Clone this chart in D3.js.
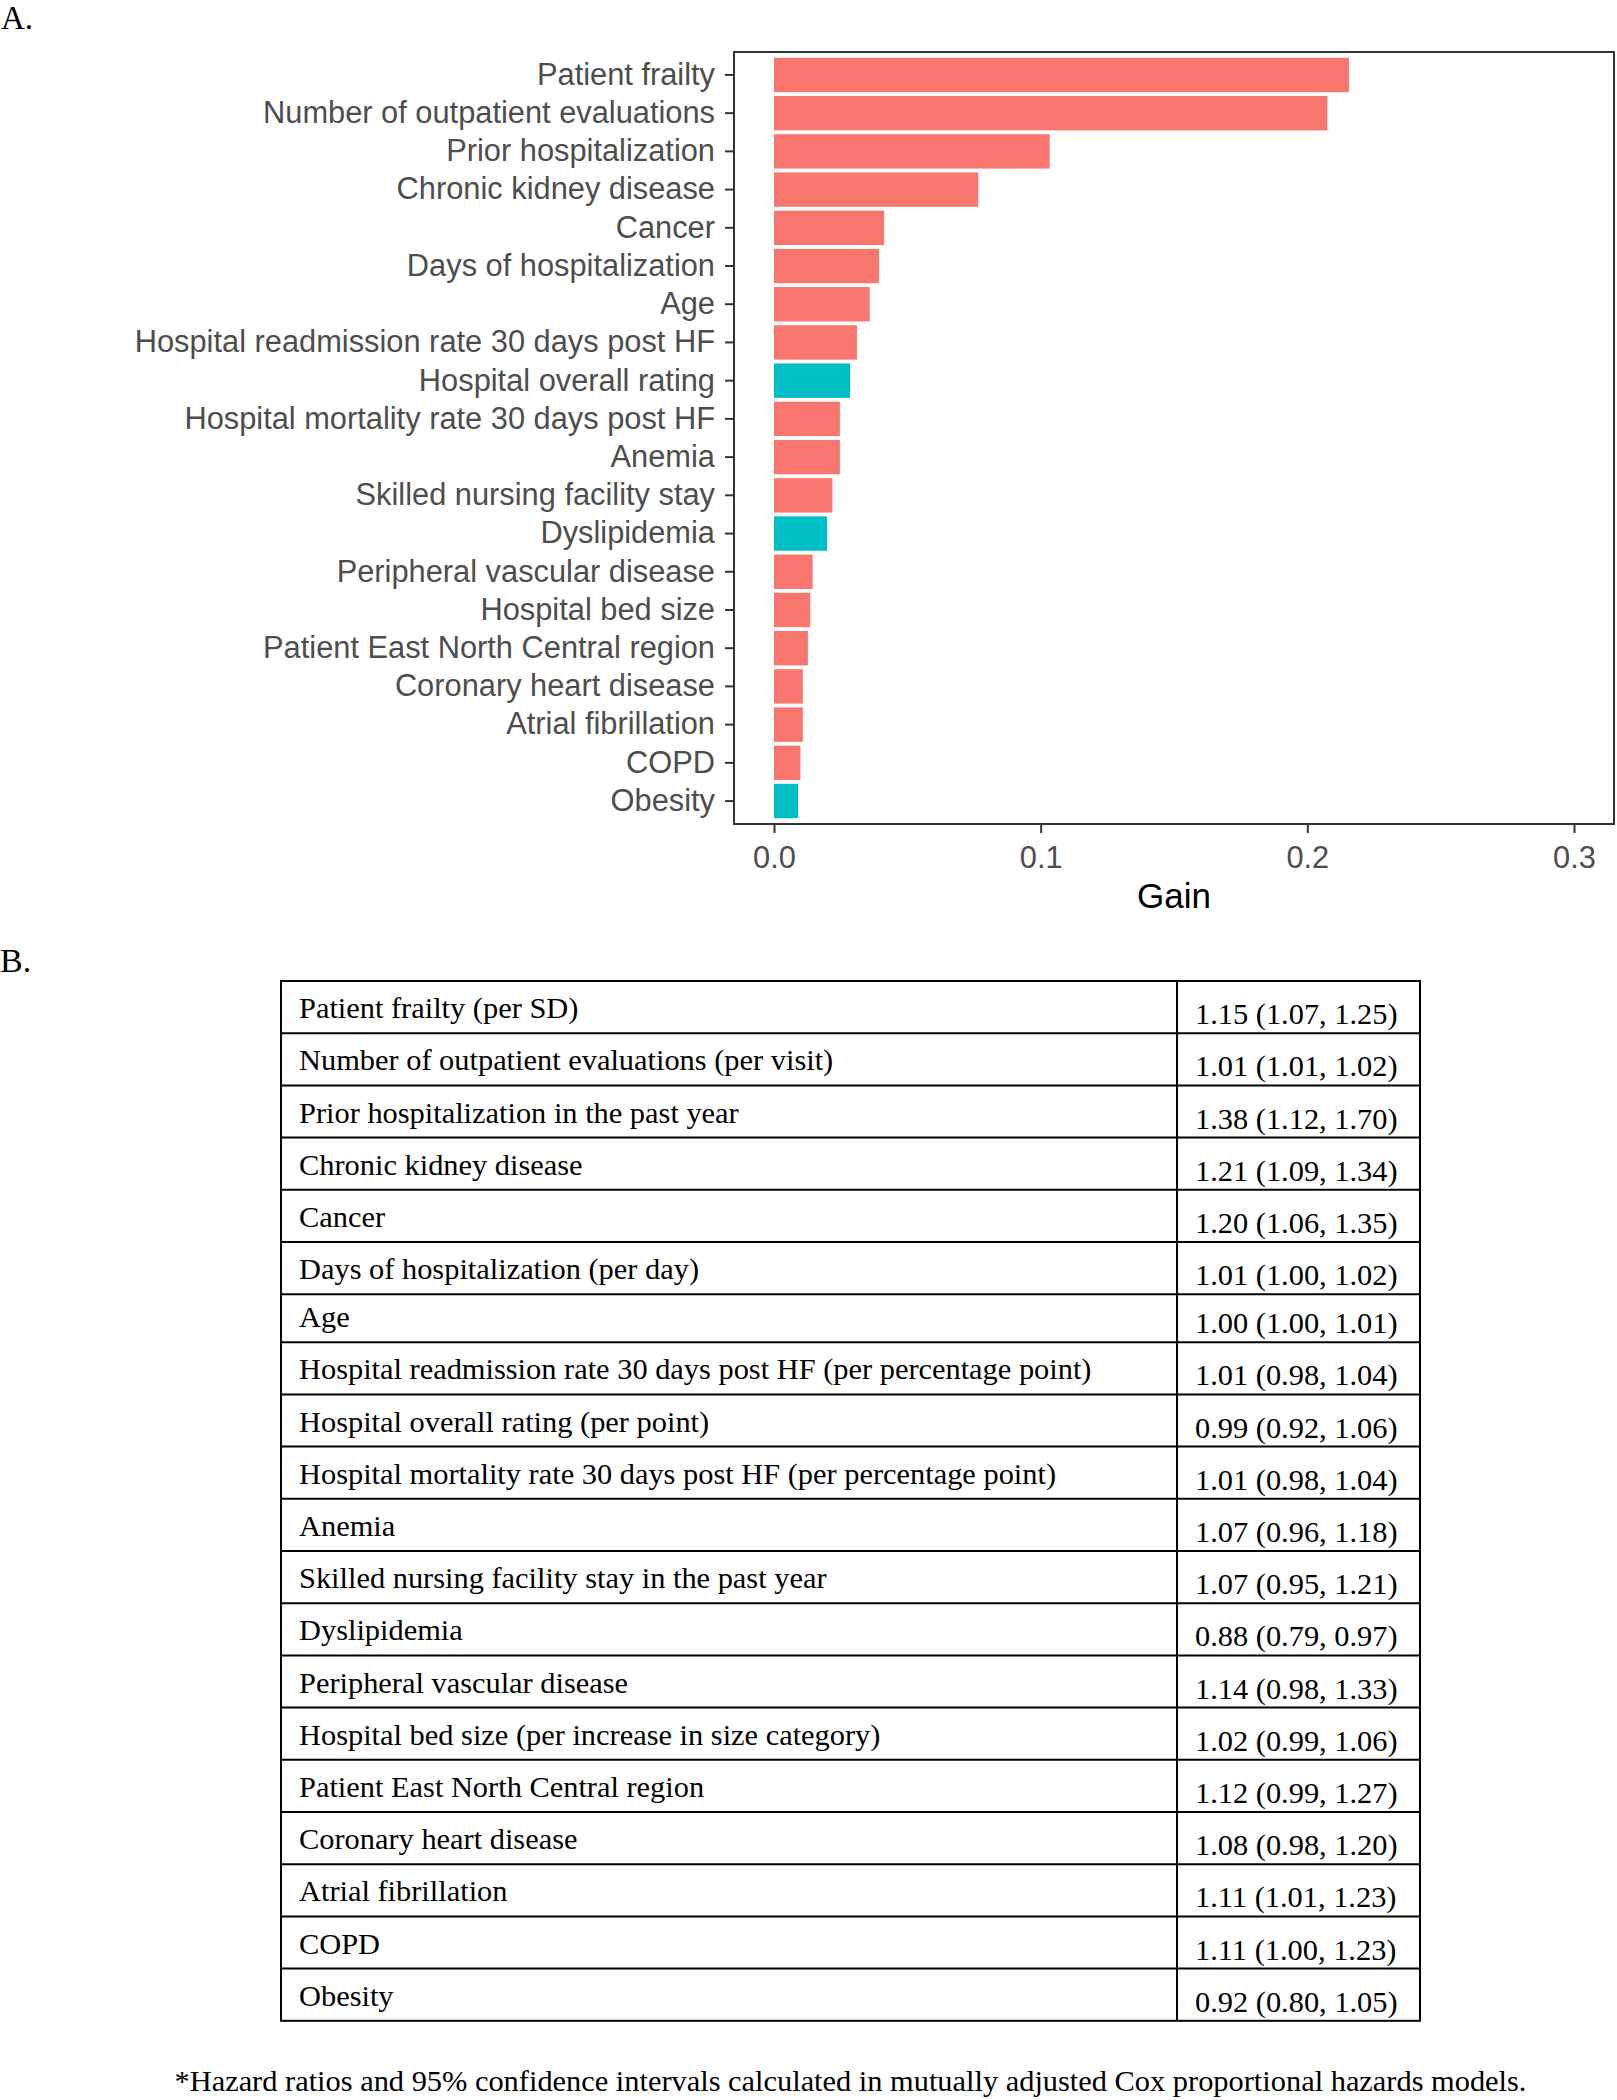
<!DOCTYPE html>
<html>
<head>
<meta charset="utf-8">
<script src="https://cdn.jsdelivr.net/npm/d3@7"></script>
<title>Gain and hazard ratios</title>
<style>
  body { margin: 0; background: #fff; }
  svg { display: block; }
</style>
</head>
<body>
<script>
// features in order of importance (panel A) and the same order in table B
var features = ["Patient frailty", "Number of outpatient evaluations", "Prior hospitalization",
  "Chronic kidney disease", "Cancer", "Days of hospitalization", "Age",
  "Hospital readmission rate 30 days post HF", "Hospital overall rating",
  "Hospital mortality rate 30 days post HF", "Anemia", "Skilled nursing facility stay",
  "Dyslipidemia", "Peripheral vascular disease", "Hospital bed size",
  "Patient East North Central region", "Coronary heart disease", "Atrial fibrillation",
  "COPD", "Obesity"];

var gain = [0.2156, 0.2075, 0.1034, 0.0766, 0.0413, 0.0394, 0.0359, 0.0311, 0.0285, 0.0247,
  0.0247, 0.0219, 0.0199, 0.0145, 0.0136, 0.0127, 0.0108, 0.0108, 0.0099, 0.0090];

var xTicks = [0, 0.1, 0.2, 0.3];

var tableLabels = ["Patient frailty (per SD)", "Number of outpatient evaluations (per visit)",
  "Prior hospitalization in the past year", "Chronic kidney disease", "Cancer",
  "Days of hospitalization (per day)", "Age",
  "Hospital readmission rate 30 days post HF (per percentage point)",
  "Hospital overall rating (per point)",
  "Hospital mortality rate 30 days post HF (per percentage point)", "Anemia",
  "Skilled nursing facility stay in the past year", "Dyslipidemia",
  "Peripheral vascular disease", "Hospital bed size (per increase in size category)",
  "Patient East North Central region", "Coronary heart disease", "Atrial fibrillation",
  "COPD", "Obesity"];

var hr   = [1.15, 1.01, 1.38, 1.21, 1.20, 1.01, 1.00, 1.01, 0.99, 1.01, 1.07, 1.07, 0.88, 1.14, 1.02, 1.12, 1.08, 1.11, 1.11, 0.92];
var hrLo = [1.07, 1.01, 1.12, 1.09, 1.06, 1.00, 1.00, 0.98, 0.92, 0.98, 0.96, 0.95, 0.79, 0.98, 0.99, 0.99, 0.98, 1.01, 1.00, 0.80];
var hrHi = [1.25, 1.02, 1.70, 1.34, 1.35, 1.02, 1.01, 1.04, 1.06, 1.04, 1.18, 1.21, 0.97, 1.33, 1.06, 1.27, 1.20, 1.23, 1.23, 1.05];

var footnote = "*Hazard ratios and 95% confidence intervals calculated in mutually adjusted Cox proportional hazards models.";

var W = 1617, H = 2100;
var svg = d3.select("body").append("svg")
  .attr("width", W)
  .attr("height", H);

var sans = "'Liberation Sans', Arial, sans-serif";
var serif = "'Liberation Serif', 'Times New Roman', serif";

// ---------- panel A ----------
svg.append("text")
  .attr("x", 1).attr("y", 29)
  .style("font-family", serif).style("font-size", "33px")
  .text("A.");

var pLeft = 734, pRight = 1614, pTop = 52, pBottom = 824;

var x = d3.scaleLinear().domain([-0.015, 0.315]).range([pLeft, pRight]);
// ggplot-like discrete axis: 0.6 unit padding at the ends, bar width 0.9
var y = d3.scaleBand().domain(features).range([pTop, pBottom])
  .paddingInner(0.1).paddingOuter(0.15);

var bars = features.map(function(f, i) {
  return { name: f, gain: gain[i], protective: hr[i] < 1 };
});

svg.selectAll("rect.bar")
  .data(bars)
  .enter()
  .append("rect")
  .attr("class", "bar")
  .attr("x", x(0))
  .attr("y", function(d) { return y(d.name); })
  .attr("width", function(d) { return x(d.gain) - x(0); })
  .attr("height", y.bandwidth())
  .attr("fill", function(d) { return d.protective ? "#00BFC4" : "#F8766D"; });

var yAxis = svg.append("g")
  .attr("transform", "translate(" + pLeft + ",0)")
  .call(d3.axisLeft(y).tickSize(9).tickPadding(10));

var xAxis = svg.append("g")
  .attr("transform", "translate(0," + pBottom + ")")
  .call(d3.axisBottom(x).tickValues(xTicks).tickFormat(d3.format(".1f")).tickSize(9).tickPadding(13));

[yAxis, xAxis].forEach(function(g) {
  g.select(".domain").remove();
  g.selectAll(".tick line").attr("stroke", "#333").attr("stroke-width", 2);
  g.selectAll(".tick text")
    .attr("fill", "#4D4D4D")
    .style("font-family", sans)
    .style("font-size", "30.8px");
});

svg.append("rect")
  .attr("x", pLeft).attr("y", pTop)
  .attr("width", pRight - pLeft).attr("height", pBottom - pTop)
  .attr("fill", "none")
  .attr("stroke", "#333")
  .attr("stroke-width", 2);

svg.append("text")
  .attr("x", (pLeft + pRight) / 2).attr("y", 908)
  .attr("text-anchor", "middle")
  .style("font-family", sans).style("font-size", "35px")
  .text("Gain");

// ---------- panel B ----------
svg.append("text")
  .attr("x", 0).attr("y", 972)
  .style("font-family", serif).style("font-size", "34px")
  .text("B.");

var tLeft = 281, tRight = 1420, tDivider = 1177, tTop = 981;

// row heights: the Age row is drawn a little shorter in the original
var rows = [];
var yPos = tTop;
tableLabels.forEach(function(lab, i) {
  var h = (i === 6) ? 48 : 52.2;
  rows.push({
    label: lab,
    value: hr[i].toFixed(2) + " (" + hrLo[i].toFixed(2) + ", " + hrHi[i].toFixed(2) + ")",
    y0: yPos, y1: yPos + h
  });
  yPos += h;
});
var tBottom = yPos;

var table = svg.append("g")
  .style("font-family", serif)
  .style("font-size", "30.4px");

table.selectAll("line.row")
  .data(rows.slice(0, rows.length - 1))
  .enter()
  .append("line")
  .attr("class", "row")
  .attr("x1", tLeft).attr("x2", tRight)
  .attr("y1", function(d) { return d.y1; })
  .attr("y2", function(d) { return d.y1; })
  .attr("stroke", "#000")
  .attr("stroke-width", 2);

table.append("line")
  .attr("x1", tDivider).attr("x2", tDivider)
  .attr("y1", tTop).attr("y2", tBottom)
  .attr("stroke", "#000").attr("stroke-width", 2);

table.append("rect")
  .attr("x", tLeft).attr("y", tTop)
  .attr("width", tRight - tLeft).attr("height", tBottom - tTop)
  .attr("fill", "none")
  .attr("stroke", "#000").attr("stroke-width", 2);

table.selectAll("text.label")
  .data(rows)
  .enter()
  .append("text")
  .attr("class", "label")
  .attr("x", tLeft + 18)
  .attr("y", function(d) { return d.y1 - 15; })
  .text(function(d) { return d.label; });

table.selectAll("text.value")
  .data(rows)
  .enter()
  .append("text")
  .attr("class", "value")
  .attr("x", tDivider + 18)
  .attr("y", function(d) { return d.y1 - 9; })
  .text(function(d) { return d.value; });

svg.append("text")
  .attr("x", (tLeft + tRight) / 2).attr("y", 2091)
  .attr("text-anchor", "middle")
  .style("font-family", serif).style("font-size", "30.4px")
  .text(footnote);
</script>
</body>
</html>
